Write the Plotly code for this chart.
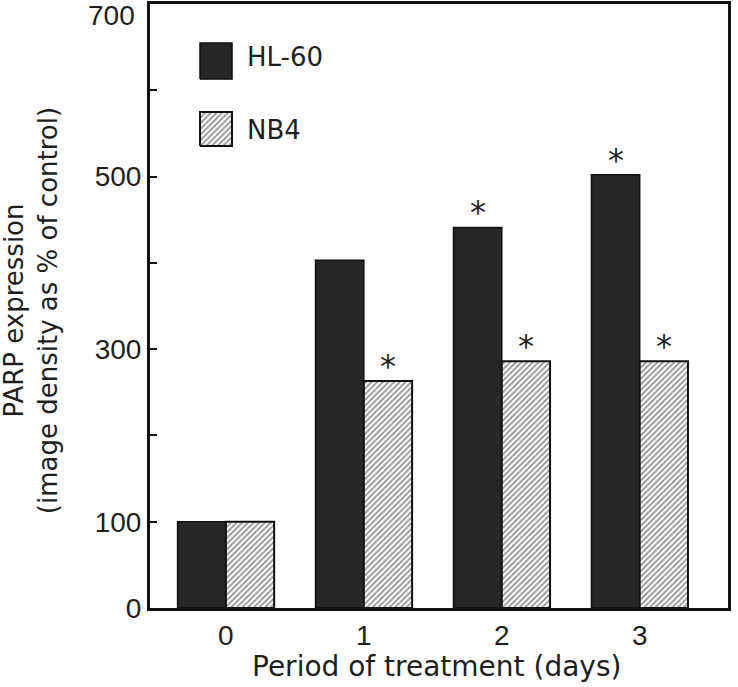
import plotly.graph_objects as go

days = ["0", "1", "2", "3"]
day_pos = [0, 1, 2, 3]
hl60 = [100, 403, 441, 502]
nb4 = [100, 263, 286, 286]
hl60_sig = ["", "", "*", "*"]
nb4_sig = ["", "*", "*", "*"]
ytick_vals = [0, 100, 200, 300, 400, 500, 600, 700]
ytick_text = ["0", "100", "", "300", "", "500", "", ""]

ARIAL = "Liberation Sans, Arial, Helvetica, sans-serif"
WIDE = "DejaVu Sans, Verdana, sans-serif"
TXT = "#1e1e1e"
DARK = "#272727"
BAR_HALF = 0.175

fig = go.Figure()
fig.add_trace(go.Bar(
    x=day_pos, y=hl60, name="HL-60",
    marker=dict(color=DARK, line=dict(color="#111", width=1.5)),
))
fig.add_trace(go.Bar(
    x=day_pos, y=nb4, name="NB4",
    marker=dict(color="white", line=dict(color="#111", width=2),
                pattern=dict(shape="/", fgcolor="#222", bgcolor="white", size=4, solidity=0.45)),
))

# significance asterisks, positioned from data
for vals, sig, off in [(hl60, hl60_sig, -BAR_HALF), (nb4, nb4_sig, BAR_HALF)]:
    for d, v, s in zip(day_pos, vals, sig):
        if s:
            fig.add_annotation(x=d + off, y=v, xref="x", yref="y", text=s, showarrow=False,
                               yanchor="bottom", yshift=-6,
                               font=dict(size=32, color=TXT, family=WIDE))

# manual legend swatches in an overlay axis
sw = [(0.0865, 0.1419, 0.8758, 0.9354), (0.0865, 0.1419, 0.7649, 0.8212)]
x0, x1, y0, y1 = sw[0]
fig.add_trace(go.Scatter(x=[x0, x1, x1, x0, x0], y=[y0, y0, y1, y1, y0], fill="toself",
                         fillcolor=DARK, line=dict(color="#111", width=1.5), mode="lines",
                         xaxis="x2", yaxis="y2", hoverinfo="skip", showlegend=False))
x0, x1, y0, y1 = sw[1]
fig.add_trace(go.Scatter(x=[x0, x1, x1, x0, x0], y=[y0, y0, y1, y1, y0], fill="toself",
                         fillcolor="white",
                         fillpattern=dict(shape="/", fgcolor="#222", bgcolor="white", size=4, solidity=0.45),
                         line=dict(color="#111", width=2), mode="lines",
                         xaxis="x2", yaxis="y2", hoverinfo="skip", showlegend=False))

fig.add_annotation(x=0.1644, y=0.9116, xref="paper", yref="paper", text="HL-60", showarrow=False,
                   xanchor="left", yanchor="middle", font=dict(size=26, color=TXT, family=WIDE))
fig.add_annotation(x=0.1644, y=0.7914, xref="paper", yref="paper", text="NB4", showarrow=False,
                   xanchor="left", yanchor="middle", font=dict(size=26, color=TXT, family=WIDE))
# top tick label (kept inside the page)
fig.add_annotation(x=0, y=700, xref="paper", yref="y", text="700", showarrow=False,
                   xanchor="right", yanchor="middle", xshift=-13, yshift=-11,
                   font=dict(size=28, color=TXT, family=ARIAL))
# axis titles
fig.add_annotation(x=0.4965, y=-0.097, xref="paper", yref="paper", text="Period of treatment (days)",
                   showarrow=False, xanchor="center", yanchor="middle",
                   font=dict(size=28, color=TXT, family=WIDE))
fig.add_annotation(x=-0.206, y=0.493, xref="paper", yref="paper",
                   text="PARP expression<br>(image density as % of control)", textangle=-90,
                   showarrow=False, xanchor="center", yanchor="middle",
                   font=dict(size=26, color=TXT, family=WIDE))

fig.update_layout(
    width=738, height=687,
    margin=dict(l=150, r=10, t=4, b=79),
    paper_bgcolor="white", plot_bgcolor="white",
    barmode="group", bargap=0.3, bargroupgap=0,
    showlegend=False,
    font=dict(family=ARIAL, color=TXT),
    xaxis=dict(range=[-0.55, 3.64], tickvals=day_pos, ticktext=days, automargin=False,
               showgrid=False, zeroline=False, showline=True, linecolor="#111", linewidth=3,
               mirror=True, ticks="", tickfont=dict(size=28, color=TXT), ticklabelstandoff=0),
    yaxis=dict(range=[0, 700], tickvals=ytick_vals, ticktext=ytick_text, automargin=False,
               showgrid=False, zeroline=False, showline=True, linecolor="#111", linewidth=3,
               mirror=True, ticks="inside", ticklen=7, tickwidth=2, tickcolor="#111",
               tickfont=dict(size=28, color=TXT)),
    xaxis2=dict(range=[0, 1], overlaying="x", visible=False, fixedrange=True),
    yaxis2=dict(range=[0, 1], overlaying="y", visible=False, fixedrange=True),
)

fig.write_html("out.html", config={"displayModeBar": False},
               post_script="document.body.style.margin='0';document.body.style.overflow='hidden';")
